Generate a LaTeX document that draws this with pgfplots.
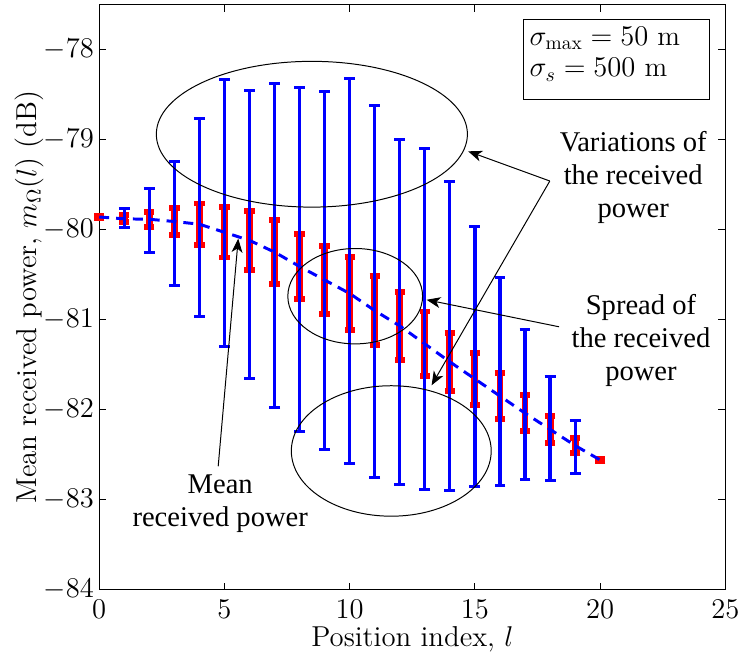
\documentclass[border=0pt]{standalone}
\usepackage{fontspec}
\usepackage{pgfplots}
\pgfplotsset{compat=1.18}
\usetikzlibrary{arrows.meta}
\newfontfamily\timesfont{Liberation Serif}
\begin{document}
\begin{tikzpicture}
\begin{axis}[
 scale only axis, width=315.5pt, height=294.7pt,
 xmin=0, xmax=25, ymin=-84, ymax=-77.5,
 xtick={0,5,...,25}, ytick={-84,-83,...,-78},
 tick align=inside, major tick length=3.5pt,
 tick style={black, line width=0.5pt},
 axis line style={line width=0.5pt},
 tick label style={font=\fontsize{14}{16}\selectfont},
 yticklabel style={anchor=east, inner sep=0pt, xshift=-2.5pt},
 xticklabel style={yshift=-1.7pt},
 label style={font=\fontsize{14.5}{17}\selectfont},
 xlabel={Position index, $l$},
 ylabel={Mean received power, $m_\Omega(l)$ (dB)},
 xlabel style={at={(axis description cs:0.5,0)}, anchor=base, yshift=-28.9pt},
 ylabel style={at={(axis description cs:-0.112,0.5)}, anchor=center},
 clip=false,
]
% spread (red)
\addplot[draw=none, mark=none,
  error bars/.cd, y dir=both, y explicit,
  error bar style={draw=red, line width=3.5pt},
  error mark options={rotate=90, draw=red, line width=3pt, mark size=2.6pt}]
coordinates {
(0,-79.86) +- (0,0.015)
(1,-79.88) +- (0,0.04)
(2,-79.885) +- (0,0.085)
(3,-79.91) +- (0,0.15)
(4,-79.94) +- (0,0.23)
(5,-80.03) +- (0,0.28)
(6,-80.12) +- (0,0.325)
(7,-80.25) +- (0,0.355)
(8,-80.41) +- (0,0.36)
(9,-80.56) +- (0,0.375)
(10,-80.71) +- (0,0.41)
(11,-80.90) +- (0,0.385)
(12,-81.07) +- (0,0.38)
(13,-81.27) +- (0,0.36)
(14,-81.47) +- (0,0.325)
(15,-81.66) +- (0,0.29)
(16,-81.85) +- (0,0.255)
(17,-82.04) +- (0,0.20)
(18,-82.22) +- (0,0.15)
(19,-82.40) +- (0,0.08)
(20,-82.56) +- (0,0.015)
};
% variations (blue)
\addplot[draw=none, mark=none,
  error bars/.cd, y dir=both, y explicit,
  error bar style={draw=blue, line width=1.6pt},
  error mark options={rotate=90, draw=blue, line width=1.5pt, mark size=2.75pt}]
coordinates {
(1,-79.88) += (0,0.12) -= (0,0.10)
(2,-79.885) += (0,0.345) -= (0,0.365)
(3,-79.91) += (0,0.665) -= (0,0.71)
(4,-79.94) += (0,1.17) -= (0,1.03)
(5,-80.03) += (0,1.70) -= (0,1.27)
(6,-80.12) += (0,1.67) -= (0,1.53)
(7,-80.25) += (0,1.87) -= (0,1.73)
(8,-80.41) += (0,1.99) -= (0,1.83)
(9,-80.56) += (0,2.10) -= (0,1.88)
(10,-80.71) += (0,2.39) -= (0,1.89)
(11,-80.90) += (0,2.28) -= (0,1.85)
(12,-81.07) += (0,2.07) -= (0,1.76)
(13,-81.27) += (0,2.17) -= (0,1.62)
(14,-81.47) += (0,2.00) -= (0,1.43)
(15,-81.66) += (0,1.69) -= (0,1.20)
(16,-81.85) += (0,1.32) -= (0,0.99)
(17,-82.04) += (0,0.93) -= (0,0.74)
(18,-82.22) += (0,0.59) -= (0,0.57)
(19,-82.40) += (0,0.28) -= (0,0.31)
};
% mean
\addplot[blue, mark=none, line width=1.5pt, dash pattern=on 5pt off 3.5pt] coordinates {
(0,-79.86) (1,-79.88) (2,-79.885) (3,-79.91) (4,-79.94) (5,-80.03)
(6,-80.12) (7,-80.25) (8,-80.41) (9,-80.56) (10,-80.71) (11,-80.90)
(12,-81.07) (13,-81.27) (14,-81.47) (15,-81.66) (16,-81.85) (17,-82.04)
(18,-82.22) (19,-82.40) (20,-82.56)
};
% ellipses
\draw[line width=0.5pt] (axis cs:8.49,-78.94) ellipse [x radius=6.21, y radius=0.81];
\draw[line width=0.5pt] (axis cs:10.22,-80.74) ellipse [x radius=2.69, y radius=0.53];
\draw[line width=0.5pt] (axis cs:11.66,-82.46) ellipse [x radius=3.99, y radius=0.725];
% arrows
\draw[-{Stealth[length=7pt,width=5.5pt,inset=2pt]}, line width=0.5pt] (axis cs:4.75,-82.63) -- (axis cs:5.55,-80.10);
\draw[-{Stealth[length=7pt,width=5.5pt,inset=2pt]}, line width=0.5pt] (axis cs:17.99,-79.46) -- (axis cs:14.73,-79.13);
\draw[-{Stealth[length=7pt,width=5.5pt,inset=2pt]}, line width=0.5pt] (axis cs:17.99,-79.46) -- (axis cs:13.27,-81.73);
\draw[-{Stealth[length=7pt,width=5.5pt,inset=2pt]}, line width=0.5pt] (axis cs:18.36,-81.08) -- (axis cs:13.07,-80.78);
% texts
\node[align=center, font=\timesfont\fontsize{14.4}{16.7}\selectfont] at (axis cs:21.32,-79.42) {Variations of\\the received\\power};
\node[align=center, font=\timesfont\fontsize{14.4}{16.7}\selectfont] at (axis cs:21.63,-81.23) {Spread of\\the received\\power};
\node[align=center, font=\timesfont\fontsize{14.4}{16.7}\selectfont] at (axis cs:4.83,-83.05) {Mean\\received power};
% info box
\draw[line width=0.5pt, fill=white] (axis cs:16.93,-78.558) rectangle (axis cs:24.37,-77.67);
\node[anchor=base west, inner sep=0pt, font=\fontsize{14}{16}\selectfont] at (axis cs:17.17,-77.953) {$\sigma_{\max} = 50$ m};
\node[anchor=base west, inner sep=0pt, font=\fontsize{14}{16}\selectfont] at (axis cs:17.17,-78.302) {$\sigma_s = 500$ m};
\end{axis}
\path ([shift={(-50pt,-34.5pt)}]current axis.south west) rectangle ([shift={(7.5pt,2.35pt)}]current axis.north east);
\end{tikzpicture}
\end{document}
